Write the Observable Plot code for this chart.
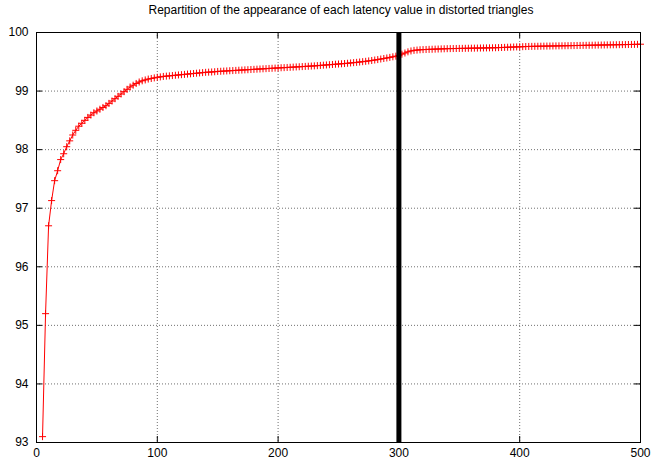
<!DOCTYPE html>
<html>
<head>
<meta charset="utf-8">
<script src="https://cdn.jsdelivr.net/npm/d3@7"></script>
<script src="https://cdn.jsdelivr.net/npm/@observablehq/plot@0.6"></script>
<style>
  html, body { margin: 0; padding: 0; background: #fff; }
  #title { width: 655px; height: 22px; line-height: 22px; text-align: center; font: 12px "Liberation Sans", Arial, sans-serif; color: #000; box-sizing: border-box; padding-left: 27px; white-space: nowrap; overflow: visible; }
  #title span { position: relative; top: 3px; }
</style>
</head>
<body>
<div id="title"><span>Repartition of the appearance of each latency value in distorted triangles</span></div>
<div id="chart"></div>
<script>
const titleText = "Repartition of the appearance of each latency value in distorted triangles";
const xTicks = [0, 100, 200, 300, 400, 500];
const yTicks = [93, 94, 95, 96, 97, 98, 99, 100];
const markerX = [300];

const latency = [
  5, 7.5, 10, 12.5, 15, 17.5, 20, 22.5, 25, 27.5,
  30, 32.5, 35, 37.5, 40, 42.5, 45, 47.5, 50, 52.5,
  55, 57.5, 60, 62.5, 65, 67.5, 70, 72.5, 75, 77.5,
  80, 82.5, 85, 87.5, 90, 92.5, 95, 97.5, 100, 102.5,
  105, 107.5, 110, 112.5, 115, 117.5, 120, 122.5, 125, 127.5,
  130, 132.5, 135, 137.5, 140, 142.5, 145, 147.5, 150, 152.5,
  155, 157.5, 160, 162.5, 165, 167.5, 170, 172.5, 175, 177.5,
  180, 182.5, 185, 187.5, 190, 192.5, 195, 197.5, 200, 202.5,
  205, 207.5, 210, 212.5, 215, 217.5, 220, 222.5, 225, 227.5,
  230, 232.5, 235, 237.5, 240, 242.5, 245, 247.5, 250, 252.5,
  255, 257.5, 260, 262.5, 265, 267.5, 270, 272.5, 275, 277.5,
  280, 282.5, 285, 287.5, 290, 292.5, 295, 297.5, 300, 302.5,
  305, 307.5, 310, 312.5, 315, 317.5, 320, 322.5, 325, 327.5,
  330, 332.5, 335, 337.5, 340, 342.5, 345, 347.5, 350, 352.5,
  355, 357.5, 360, 362.5, 365, 367.5, 370, 372.5, 375, 377.5,
  380, 382.5, 385, 387.5, 390, 392.5, 395, 397.5, 400, 402.5,
  405, 407.5, 410, 412.5, 415, 417.5, 420, 422.5, 425, 427.5,
  430, 432.5, 435, 437.5, 440, 442.5, 445, 447.5, 450, 452.5,
  455, 457.5, 460, 462.5, 465, 467.5, 470, 472.5, 475, 477.5,
  480, 482.5, 485, 487.5, 490, 492.5, 495, 497.5, 500
];

const percent = [
  93.1, 95.2, 96.7, 97.13, 97.47, 97.64, 97.83, 97.93, 98.05, 98.15,
  98.25, 98.33, 98.4, 98.45, 98.5, 98.55, 98.59, 98.63, 98.66, 98.69,
  98.72, 98.75, 98.79, 98.83, 98.87, 98.91, 98.95, 98.99, 99.03, 99.07,
  99.1, 99.13, 99.155, 99.175, 99.19, 99.205, 99.215, 99.225, 99.235, 99.242,
  99.25, 99.255, 99.26, 99.265, 99.27, 99.275, 99.28, 99.285, 99.29, 99.295,
  99.3, 99.305, 99.31, 99.315, 99.32, 99.323, 99.326, 99.33, 99.335, 99.338,
  99.341, 99.344, 99.347, 99.35, 99.353, 99.356, 99.359, 99.362, 99.365, 99.368,
  99.371, 99.374, 99.377, 99.38, 99.383, 99.386, 99.389, 99.392, 99.395, 99.398,
  99.40, 99.403, 99.406, 99.409, 99.412, 99.415, 99.418, 99.421, 99.424, 99.427,
  99.43, 99.434, 99.438, 99.442, 99.446, 99.45, 99.454, 99.458, 99.462, 99.466,
  99.47, 99.475, 99.48, 99.485, 99.49, 99.496, 99.502, 99.508, 99.515, 99.522,
  99.53, 99.538, 99.547, 99.556, 99.565, 99.575, 99.585, 99.596, 99.61, 99.63,
  99.65, 99.67, 99.685, 99.695, 99.70, 99.705, 99.708, 99.71, 99.712, 99.714,
  99.716, 99.718, 99.72, 99.722, 99.724, 99.725, 99.726, 99.727, 99.728, 99.729,
  99.730, 99.731, 99.732, 99.733, 99.734, 99.735, 99.736, 99.737, 99.738, 99.739,
  99.74, 99.742, 99.744, 99.746, 99.748, 99.75, 99.752, 99.754, 99.756, 99.758,
  99.76, 99.762, 99.763, 99.764, 99.765, 99.766, 99.767, 99.768, 99.769, 99.77,
  99.771, 99.772, 99.773, 99.774, 99.775, 99.776, 99.777, 99.778, 99.779, 99.78,
  99.781, 99.782, 99.783, 99.784, 99.785, 99.786, 99.787, 99.788, 99.789, 99.79,
  99.791, 99.792, 99.793, 99.794, 99.795, 99.796, 99.797, 99.798, 99.8
];

const data = latency.map((x, i) => ({x, y: percent[i]}));
const innerX = xTicks.slice(1, -1);
const innerY = yTicks.slice(1, -1);
const gridStyle = {stroke: "#707070", strokeWidth: 1, strokeDasharray: "1,2"};

const chart = Plot.plot({
  width: 655,
  height: 439,
  marginTop: 10,
  marginBottom: 19,
  marginLeft: 36,
  marginRight: 15,
  style: {fontFamily: "'Liberation Sans', Arial, sans-serif", fontSize: "12px", color: "#000", background: "#fff", overflow: "visible"},
  x: {domain: [0, 500], ticks: xTicks},
  y: {domain: [93, 100], ticks: yTicks},
  marks: [
    Plot.ruleX(innerX, gridStyle),
    Plot.ruleY(innerY, gridStyle),
    Plot.ruleX(xTicks, {stroke: "#000", insetTop: 404}),
    Plot.ruleX(xTicks, {stroke: "#000", insetBottom: 404}),
    Plot.ruleY(yTicks, {stroke: "#000", insetRight: 598}),
    Plot.ruleY(yTicks, {stroke: "#000", insetLeft: 598}),
    Plot.line(data, {x: "x", y: "y", stroke: "#ff0000", strokeWidth: 1}),
    Plot.dot(data, {x: "x", y: "y", symbol: "plus", r: 2.4, stroke: "#ff0000", strokeWidth: 1}),
    Plot.ruleX(markerX, {stroke: "#000", strokeWidth: 5}),
    Plot.frame({stroke: "#000", strokeWidth: 1}),
    Plot.axisX(xTicks, {tickSize: 0, tickPadding: 6, fontSize: 12, label: null, tickFormat: d3.format("d")}),
    Plot.axisY(yTicks, {tickSize: 0, tickPadding: 8, fontSize: 12, label: null, tickFormat: d3.format("d")})
  ]
});
document.getElementById("chart").appendChild(chart);
</script>
</body>
</html>
